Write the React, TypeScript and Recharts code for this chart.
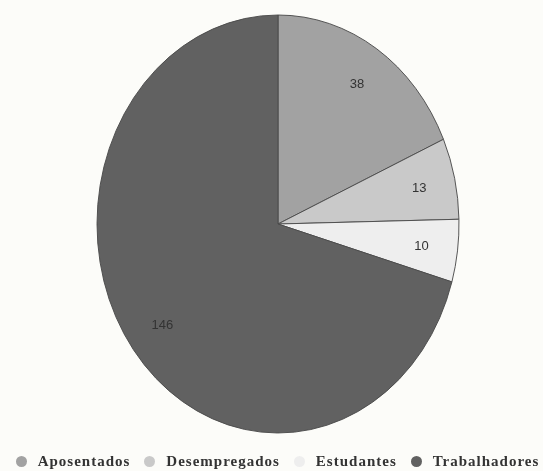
import { PieChart, Pie, Cell, Legend } from "recharts"

const categories = ["Aposentados", "Desempregados", "Estudantes", "Trabalhadores"]
const counts = [38, 13, 10, 146]
const colors = ["#a2a2a2", "#c9c9c9", "#eeeeee", "#616161"]

const data = categories.map((name, i) => ({ name, value: counts[i] }))

// pie is drawn as an ellipse: the chart gets squeezed horizontally, texts are un-squeezed
const SX = 0.866
const CX = 278
const CY = 224
const R = 209
const RAD = Math.PI / 180

const renderLabel = (p: any) => {
  const r = p.outerRadius * 0.8
  const x = p.cx + r * Math.cos(-p.midAngle * RAD)
  const y = p.cy + r * Math.sin(-p.midAngle * RAD)
  return (
    <text
      x={x}
      y={y}
      textAnchor="middle"
      dominantBaseline="central"
      fill="#333"
      fontSize={13}
      fontFamily="'Liberation Sans', Arial, sans-serif"
      transform={`translate(${x},${y}) scale(${1 / SX},1) translate(${-x},${-y})`}
    >
      {p.value}
    </text>
  )
}

const renderLegend = (props: any) => (
  <div style={{ display: "flex", justifyContent: "center", gap: 14, fontFamily: "'Liberation Serif', 'Times New Roman', serif", fontWeight: "bold", fontSize: 15, letterSpacing: 1, color: "#333", paddingLeft: 12 }}>
    {props.payload.map((e: any) => (
      <div key={e.value} style={{ display: "flex", alignItems: "center", gap: 11 }}>
        <svg width={11} height={11}><circle cx={5.5} cy={5.5} r={5.5} fill={e.color} /></svg>
        <span>{e.value}</span>
      </div>
    ))}
  </div>
)

export default function App() {
  return (
    <div style={{ position: "absolute", left: 0, top: 0, width: 543, height: 471, background: "#fcfcf9", overflow: "hidden" }}>
      <div style={{ transform: `scaleX(${SX})`, transformOrigin: `${CX}px ${CY}px` }}>
        <PieChart width={543} height={471} margin={{ top: 0, right: 0, bottom: 0, left: 0 }}>
          <Pie
            data={data}
            dataKey="value"
            nameKey="name"
            cx={CX}
            cy={CY}
            outerRadius={R}
            startAngle={90}
            endAngle={-270}
            stroke="#4a4a4a"
            strokeWidth={1}
            label={renderLabel}
            labelLine={false}
            isAnimationActive={false}
          >
            {data.map((d, i) => (
              <Cell key={d.name} fill={colors[i]} />
            ))}
          </Pie>
          <Legend
            content={renderLegend}
            verticalAlign="bottom"
            wrapperStyle={{ bottom: 1, transform: `scaleX(${1 / SX})`, transformOrigin: `${CX}px 0px`, left: 0, width: 543 }}
          />
        </PieChart>
      </div>
    </div>
  )
}
